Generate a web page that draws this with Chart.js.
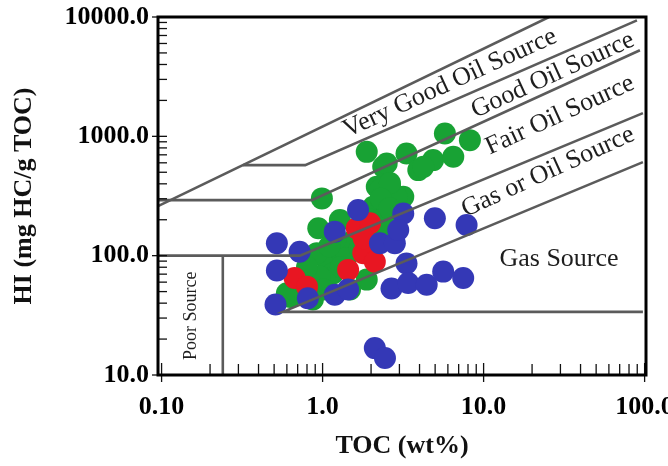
<!DOCTYPE html>
<html><head><meta charset="utf-8">
<script src="https://cdn.jsdelivr.net/npm/chart.js@4/dist/chart.umd.min.js"></script>
<style>html,body{margin:0;padding:0;background:#fff}</style>
</head><body>
<canvas id="c" width="668" height="466"></canvas>
<script>
// Samples: TOC (wt%) and HI (mg HC/g TOC) for each group
const greenTOC = [1.88,2.38,3.32,3.93,4.86,5.75,6.48,8.22,2.17,2.62,3.17,0.99,2.50,4.22,2.27,2.88,2.06,2.50,1.28,0.94,1.06,0.92,1.16,0.96,1.28,1.88,0.63,0.87,1.48,1.01,0.60,2.62,2.30,2.00,1.50,1.20,1.40,0.80,1.30,1.70,2.30,2.60,1.10];
const greenHI  = [741,555,719,521,632,1058,674,929,378,378,312,302,593,555,355,312,257,226,199,170,92,105,71,67,112,63,45,43,52,52,48.5,406,300,200,130,135,95,80,80,115,170,250,120];
const redTOC = [1.63,1.97,1.79,2.11,1.44,0.67,0.80,1.80];
const redHI  = [170,187,105,89,76,65,55,140];
const blueTOC = [0.52,0.72,0.52,0.51,0.81,1.19,1.44,1.19,1.66,2.27,2.81,3.17,2.95,3.32,2.68,3.40,4.43,5.61,7.47,4.98,7.84,2.11,2.44];
const blueHI  = [127,108,75,39,44,47,52,159,241,127,127,226,164,86,53,59,57,73.5,65,206,181,16.8,13.9];

// Source-quality boundaries as [TOC, HI] vertices
const lineVeryGood = [[0.095,260],[25.5,10000]];
const lineGood = [[0.32,574],[0.78,574],[89.6,9380]];
const lineFair = [[0.095,292],[0.858,292],[93.5,5263]];
const lineGasOil = [[0.095,100],[0.723,100],[97.6,1564]];
const lineGas = [[97.6,608],[0.567,33.8],[97.6,33.8]];
const linePoor = [[0.24,100],[0.24,10]];

// Axis ticks
const xMajor = [0.1, 1, 10, 100];
const xTickLabels = ['0.10','1.0','10.0','100.0'];
const yMajor = [10, 100, 1000, 10000];
const yTickLabels = ['10.0','100.0','1000.0','10000.0'];

// Zone captions: text, anchor [TOC, HI], rotation (deg), font size
const zoneLabels = [
  ['Very Good Oil Source', [6.18, 2786], -24.5, 26],
  ['Good Oil Source', [26.9, 3251], -24.5, 26],
  ['Fair Oil Source', [29.8, 1504], -24.5, 26],
  ['Gas or Oil Source', [25.1, 502], -24.5, 26],
  ['Gas Source', [29.4, 93.8], 0, 26],
  ['Poor Source', [0.152, 31.3], -90, 18]
];

const pts = (xs, ys) => xs.map((x, i) => ({x, y: ys[i]}));
const poly = v => v.map(p => ({x: p[0], y: p[1]}));

function minorTicks(majors) {
  const out = [];
  majors.forEach((m, i) => {
    out.push({value: m, major: true});
    if (i < majors.length - 1) for (let k = 2; k <= 9; k++) out.push({value: m * k, major: false});
  });
  return out;
}

function noPad(s) { s.paddingLeft = 0; s.paddingRight = 0; s.paddingTop = 0; s.paddingBottom = 0; }

const SERIF = '"Liberation Serif", "Times New Roman", serif';
const lineStyle = {type: 'line', showLine: true, pointRadius: 0, borderColor: '#5b5b5b', borderWidth: 2.6, fill: false, order: -1, tension: 0};

const framePlugin = {
  id: 'frame',
  afterDatasetsDraw(chart) {
    const {ctx, chartArea: a, scales: {x, y}} = chart;
    ctx.save();
    // zone captions
    ctx.fillStyle = '#1e1e1e';
    zoneLabels.forEach(([t, [tx, ty], rot, size]) => {
      ctx.save();
      ctx.translate(x.getPixelForValue(tx), y.getPixelForValue(ty));
      ctx.rotate(rot * Math.PI / 180);
      ctx.font = size + 'px ' + SERIF;
      ctx.textAlign = 'center';
      ctx.textBaseline = 'middle';
      ctx.fillText(t, 0, 0);
      ctx.restore();
    });
    // tick marks: minor inward, major crossing the axis
    ctx.strokeStyle = '#111';
    ctx.lineWidth = 1.3;
    x.ticks.forEach(t => {
      const px = x.getPixelForValue(t.value);
      if (px < a.left + 2 || px > a.right + 1) return;
      ctx.beginPath();
      ctx.moveTo(px, a.bottom - (t.major ? 12 : 11));
      ctx.lineTo(px, a.bottom + (t.major ? 7 : 0));
      ctx.stroke();
    });
    y.ticks.forEach(t => {
      const py = y.getPixelForValue(t.value);
      ctx.beginPath();
      ctx.moveTo(a.left - (t.major ? 6 : 0), py);
      ctx.lineTo(a.left + 9, py);
      ctx.stroke();
    });
    // frame
    ctx.strokeStyle = '#000';
    ctx.lineWidth = 3;
    ctx.strokeRect(a.left, a.top, a.right - a.left, a.bottom - a.top);
    ctx.restore();
  }
};

new Chart(document.getElementById('c'), {
  type: 'scatter',
  data: {
    datasets: [
      {data: pts(blueTOC, blueHI), backgroundColor: 'rgb(52,56,182)', order: 0},
      {data: pts(redTOC, redHI), backgroundColor: 'rgb(232,22,34)', order: 1},
      {data: pts(greenTOC, greenHI), backgroundColor: 'rgb(24,162,52)', order: 2},
      Object.assign({data: poly(lineVeryGood)}, lineStyle),
      Object.assign({data: poly(lineGood)}, lineStyle),
      Object.assign({data: poly(lineFair)}, lineStyle),
      Object.assign({data: poly(lineGasOil)}, lineStyle),
      Object.assign({data: poly(lineGas)}, lineStyle),
      Object.assign({data: poly(linePoor)}, lineStyle)
    ]
  },
  options: {
    responsive: false,
    animation: false,
    devicePixelRatio: 1,
    layout: {padding: {top: 17, right: 22, bottom: 0, left: 0}},
    elements: {point: {radius: 11, hoverRadius: 11, borderWidth: 0}},
    plugins: {legend: {display: false}, tooltip: {enabled: false}},
    scales: {
      x: {
        type: 'logarithmic', min: 0.095, max: 102,
        afterFit: s => { s.height = 91; noPad(s); },
        afterBuildTicks: s => { s.ticks = minorTicks(xMajor); },
        grid: {display: false, drawTicks: false},
        border: {display: false},
        ticks: {
          autoSkip: false, maxRotation: 0, padding: 17, color: '#000',
          font: {family: SERIF, size: 26, weight: 'bold'},
          callback: v => { const i = xMajor.indexOf(v); return i >= 0 ? xTickLabels[i] : ''; }
        },
        title: {display: true, text: 'TOC (wt%)', color: '#111', padding: {top: 0, bottom: 4},
                font: {family: SERIF, size: 26, weight: 'bold'}}
      },
      y: {
        type: 'logarithmic', min: 10, max: 10000,
        afterFit: s => { s.width = 158; noPad(s); },
        afterBuildTicks: s => { s.ticks = minorTicks(yMajor); },
        grid: {display: false, drawTicks: false},
        border: {display: false},
        ticks: {
          autoSkip: false, padding: 9, color: '#000',
          font: {family: SERIF, size: 26, weight: 'bold'},
          callback: v => { const i = yMajor.indexOf(v); return i >= 0 ? yTickLabels[i] : ''; }
        },
        title: {display: true, text: 'HI (mg HC/g TOC)', color: '#111', padding: {top: 9, bottom: 0},
                font: {family: SERIF, size: 26, weight: 'bold'}}
      }
    }
  },
  plugins: [framePlugin]
});
</script>
</body></html>
